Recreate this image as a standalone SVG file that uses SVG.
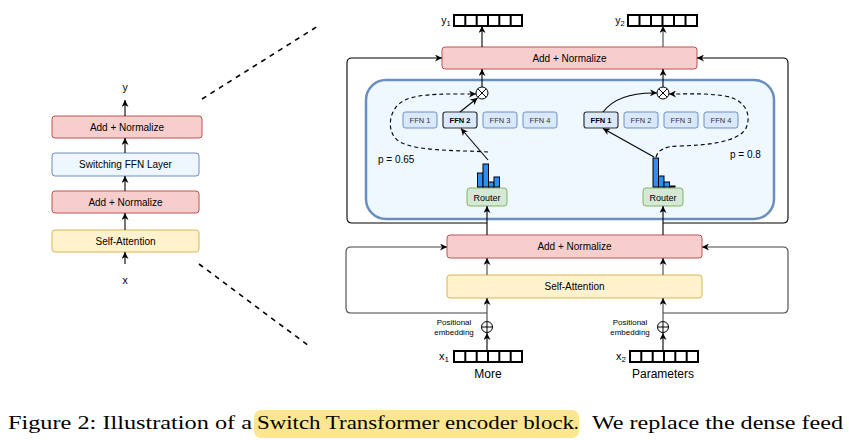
<svg xmlns="http://www.w3.org/2000/svg" width="849" height="440" viewBox="0 0 849 440">
<style>
text{font-family:"Liberation Sans",Arial,sans-serif;fill:#000}
.an{fill:#f8cecc;stroke:#b85450;stroke-width:1}
.sa{fill:#fff2cc;stroke:#d6b656;stroke-width:1}
.sw{fill:#eef7ff;stroke:#6c8ebf;stroke-width:1}
.ffn{fill:#dae8fc;stroke:#6c8ebf;stroke-width:1}
.ffns{fill:#dae8fc;stroke:#333;stroke-width:1.2}
.rt{fill:#d5e8d4;stroke:#82b366;stroke-width:1}
.bar{fill:#2f8ff0;stroke:#000;stroke-width:1}
.lbl{font-size:10px;text-anchor:middle}
.fl{font-size:7.5px;text-anchor:middle;fill:#333}
.ln{fill:none;stroke:#000;stroke-width:1.1}
.lg{fill:none;stroke:#444;stroke-width:1.1}
.dash{fill:none;stroke:#000;stroke-width:1.1;stroke-dasharray:4 3}
.zoom{fill:none;stroke:#000;stroke-width:1.6;stroke-dasharray:5 5}
.vec{fill:#fff;stroke:#000;stroke-width:2}
.op{fill:#fff;stroke:#000;stroke-width:1}
</style>
<defs>
<marker id="arr" viewBox="0 0 10 10" refX="10" refY="5" markerWidth="7" markerHeight="7" markerUnits="userSpaceOnUse" orient="auto">
<path d="M0,0 L10,5 L0,10 L3,5 z" fill="#000"/>
</marker>
</defs>

<!-- Left compact stack -->
<g id="left-stack">
<g id="l-an2"><rect class="an" x="52" y="116" width="150" height="22" rx="3"/><text class="lbl" x="127" y="130.5">Add + Normalize</text></g>
<g id="l-switch"><rect class="sw" x="52" y="153" width="147" height="23" rx="3"/><text class="lbl" x="125.5" y="168">Switching FFN Layer</text></g>
<g id="l-an1"><rect class="an" x="52" y="191" width="147" height="22" rx="3"/><text class="lbl" x="125.5" y="205.5">Add + Normalize</text></g>
<g id="l-sa"><rect class="sa" x="52" y="230" width="147" height="22" rx="3"/><text class="lbl" x="125.5" y="244.5">Self-Attention</text></g>
<text id="l-y" x="125" y="91" font-size="10.5" text-anchor="middle">y</text>
<text id="l-x" x="125" y="284" font-size="10.5" text-anchor="middle">x</text>
</g>

<!-- Zoom lines -->
<g id="zoom-lines">
<line class="zoom" x1="202" y1="99" x2="318" y2="26"/>
<line class="zoom" x1="199" y1="264" x2="309" y2="346"/>
</g>

<!-- MoE container -->
<g id="moe-container"><rect x="366" y="80" width="408" height="139" rx="20" fill="#eff8fe" stroke="#6c8ebf" stroke-width="2.5"/></g>

<!-- Main nodes -->
<g id="top-an"><rect class="an" x="442" y="47" width="255" height="22" rx="3"/><text class="lbl" x="569.5" y="61.5">Add + Normalize</text></g>
<g id="mid-an"><rect class="an" x="447" y="235" width="255" height="23" rx="3"/><text class="lbl" x="574.5" y="250">Add + Normalize</text></g>
<g id="self-attn"><rect class="sa" x="447" y="275" width="255" height="23" rx="3"/><text class="lbl" x="574.5" y="290">Self-Attention</text></g>

<g id="ffn-left">
<g id="ffnL1"><rect class="ffn" x="403" y="112" width="34" height="16" rx="2.5"/><text class="fl" x="420" y="123">FFN 1</text></g>
<g id="ffnL2"><rect class="ffns" x="443" y="112" width="34" height="16" rx="2.5"/><text class="fl" x="460" y="123" font-weight="bold" style="fill:#000">FFN 2</text></g>
<g id="ffnL3"><rect class="ffn" x="483" y="112" width="34" height="16" rx="2.5"/><text class="fl" x="500" y="123">FFN 3</text></g>
<g id="ffnL4"><rect class="ffn" x="523" y="112" width="34" height="16" rx="2.5"/><text class="fl" x="540" y="123">FFN 4</text></g>
</g>
<g id="ffn-right">
<g id="ffnR1"><rect class="ffns" x="584" y="112" width="34" height="16" rx="2.5"/><text class="fl" x="601" y="123" font-weight="bold" style="fill:#000">FFN 1</text></g>
<g id="ffnR2"><rect class="ffn" x="624" y="112" width="34" height="16" rx="2.5"/><text class="fl" x="641" y="123">FFN 2</text></g>
<g id="ffnR3"><rect class="ffn" x="664" y="112" width="34" height="16" rx="2.5"/><text class="fl" x="681" y="123">FFN 3</text></g>
<g id="ffnR4"><rect class="ffn" x="704" y="112" width="34" height="16" rx="2.5"/><text class="fl" x="721" y="123">FFN 4</text></g>
</g>

<g id="router-left"><rect class="rt" x="467" y="188" width="40" height="18" rx="3"/><text x="487" y="200.5" font-size="9" text-anchor="middle">Router</text></g>
<g id="router-right"><rect class="rt" x="643" y="188" width="40" height="18" rx="3"/><text x="663" y="200.5" font-size="9" text-anchor="middle">Router</text></g>

<g id="hist-left">
<rect class="bar" x="477.5" y="173" width="5.5" height="14"/>
<rect class="bar" x="483" y="164" width="5.5" height="23"/>
<rect class="bar" x="488.5" y="182" width="5.5" height="5"/>
<rect class="bar" x="494" y="177" width="5.5" height="10"/>
</g>
<g id="hist-right">
<rect class="bar" x="653" y="158" width="5.5" height="29"/>
<rect class="bar" x="658.5" y="176" width="5.5" height="11"/>
<rect class="bar" x="664" y="182" width="5.5" height="5"/>
<rect class="bar" x="669.5" y="186" width="5.5" height="1"/>
</g>

<g id="mult-left"><circle class="op" cx="482" cy="93" r="6"/><path d="M477.8,88.8 L486.2,97.2 M486.2,88.8 L477.8,97.2" stroke="#000" stroke-width="1"/></g>
<g id="mult-right"><circle class="op" cx="663" cy="93" r="6"/><path d="M658.8,88.8 L667.2,97.2 M667.2,88.8 L658.8,97.2" stroke="#000" stroke-width="1"/></g>

<g id="add-left"><circle class="op" cx="487" cy="327" r="5.5"/><path d="M481.5,327 H492.5 M487,321.5 V332.5" stroke="#000" stroke-width="1"/></g>
<g id="add-right"><circle class="op" cx="663" cy="327" r="5.5"/><path d="M657.5,327 H668.5 M663,321.5 V332.5" stroke="#000" stroke-width="1"/></g>

<g id="vec-y1">
<rect class="vec" x="454" y="15" width="68" height="11"/>
<path d="M465.3,15 V26 M476.7,15 V26 M488,15 V26 M499.3,15 V26 M510.7,15 V26" stroke="#000" stroke-width="2"/>
<text x="446" y="24" font-size="10.5" text-anchor="middle">y<tspan font-size="7.5" dy="2">1</tspan></text>
</g>
<g id="vec-y2">
<rect class="vec" x="628" y="15" width="69" height="11"/>
<path d="M639.5,15 V26 M651,15 V26 M662.5,15 V26 M674,15 V26 M685.5,15 V26" stroke="#000" stroke-width="2"/>
<text x="620" y="24" font-size="10.5" text-anchor="middle">y<tspan font-size="7.5" dy="2">2</tspan></text>
</g>
<g id="vec-x1">
<rect class="vec" x="454" y="351" width="68" height="11"/>
<path d="M465.3,351 V362 M476.7,351 V362 M488,351 V362 M499.3,351 V362 M510.7,351 V362" stroke="#000" stroke-width="2"/>
<text x="444" y="360" font-size="11" text-anchor="middle">x<tspan font-size="8" dy="2">1</tspan></text>
</g>
<g id="vec-x2">
<rect class="vec" x="630" y="351" width="68" height="11"/>
<path d="M641.3,351 V362 M652.7,351 V362 M664,351 V362 M675.3,351 V362 M686.7,351 V362" stroke="#000" stroke-width="2"/>
<text x="621" y="360" font-size="11" text-anchor="middle">x<tspan font-size="8" dy="2">2</tspan></text>
</g>

<g id="labels">
<text x="488" y="378" font-size="12" text-anchor="middle">More</text>
<text x="663" y="378" font-size="12" text-anchor="middle">Parameters</text>
<text x="454" y="325" font-size="8" text-anchor="middle">Positional</text>
<text x="454" y="335" font-size="8" text-anchor="middle">embedding</text>
<text x="630" y="325" font-size="8" text-anchor="middle">Positional</text>
<text x="630" y="335" font-size="8" text-anchor="middle">embedding</text>
<text x="378" y="163" font-size="10">p = 0.65</text>
<text x="730" y="158" font-size="10">p = 0.8</text>
</g>

<!-- Connectors -->
<g id="connectors">
<!-- left stack -->
<path class="ln" d="M125,116 V100" marker-end="url(#arr)"/>
<path class="ln" d="M125,153 V138" marker-end="url(#arr)"/>
<path class="ln" d="M125,191 V176" marker-end="url(#arr)"/>
<path class="ln" d="M125,230 V213" marker-end="url(#arr)"/>
<path class="ln" d="M125,264 V252" marker-end="url(#arr)"/>
<!-- column 1 -->
<path class="ln" d="M487,351 V333" marker-end="url(#arr)"/>
<path class="lg" d="M487,321.5 V298" marker-end="url(#arr)"/>
<path class="lg" d="M487,275 V258" marker-end="url(#arr)"/>
<path class="ln" d="M487,235 V206" marker-end="url(#arr)"/>
<path class="ln" d="M482,87 V69" marker-end="url(#arr)"/>
<path class="ln" d="M482,47 V26" marker-end="url(#arr)"/>
<!-- column 2 -->
<path class="ln" d="M663,351 V333" marker-end="url(#arr)"/>
<path class="lg" d="M663,321.5 V298" marker-end="url(#arr)"/>
<path class="lg" d="M663,275 V258" marker-end="url(#arr)"/>
<path class="ln" d="M663,235 V206" marker-end="url(#arr)"/>
<path class="ln" d="M663,87 V69" marker-end="url(#arr)"/>
<path class="lg" d="M663,47 V26" marker-end="url(#arr)"/>
<!-- skips -->
<path class="ln" d="M487,223 H352 Q347,223 347,218 V63 Q347,58 352,58 H442" marker-end="url(#arr)"/>
<path class="ln" d="M663,223 H783 Q788,223 788,218 V63 Q788,58 783,58 H697" marker-end="url(#arr)"/>
<path class="lg" d="M487,313 H351 Q346,313 346,308 V252 Q346,247 351,247 H447" marker-end="url(#arr)"/>
<path class="lg" d="M663,313 H783 Q788,313 788,308 V252 Q788,247 783,247 H702" marker-end="url(#arr)"/>
<!-- routing -->
<path class="ln" d="M488,160 L461,128.5" marker-end="url(#arr)"/>
<path class="ln" d="M460,112 L477.5,98" marker-end="url(#arr)"/>
<path class="ln" d="M654,157 L603,128.5" marker-end="url(#arr)"/>
<path class="ln" d="M603,112 Q618,92 657,93" marker-end="url(#arr)"/>
<path class="dash" d="M488,152 C460,150 420,152 400,142 C385,133 388,108 405,100 C420,93 450,94 476,94" marker-end="url(#arr)"/>
<path class="dash" d="M656,157 C658,150 665,146 680,146 C710,145 735,142 745,130 C752,118 748,100 725,96 C705,93 690,94 669,94" marker-end="url(#arr)"/>
</g>

<!-- Caption -->
<g id="caption">
<rect x="254" y="410" width="325" height="28" rx="7" fill="#fce68f"/>
<text x="8" y="429" font-size="18" style="font-family:'Liberation Serif','Times New Roman',serif" textLength="244" lengthAdjust="spacingAndGlyphs">Figure 2: Illustration of a</text>
<text x="257" y="429" font-size="18" style="font-family:'Liberation Serif','Times New Roman',serif" textLength="317" lengthAdjust="spacingAndGlyphs">Switch Transformer encoder block</text>
<text x="574" y="429" font-size="18" style="font-family:'Liberation Serif','Times New Roman',serif">.</text>
<text x="592" y="429" font-size="18" style="font-family:'Liberation Serif','Times New Roman',serif" textLength="251" lengthAdjust="spacingAndGlyphs">We replace the dense feed</text>
</g>
</svg>
